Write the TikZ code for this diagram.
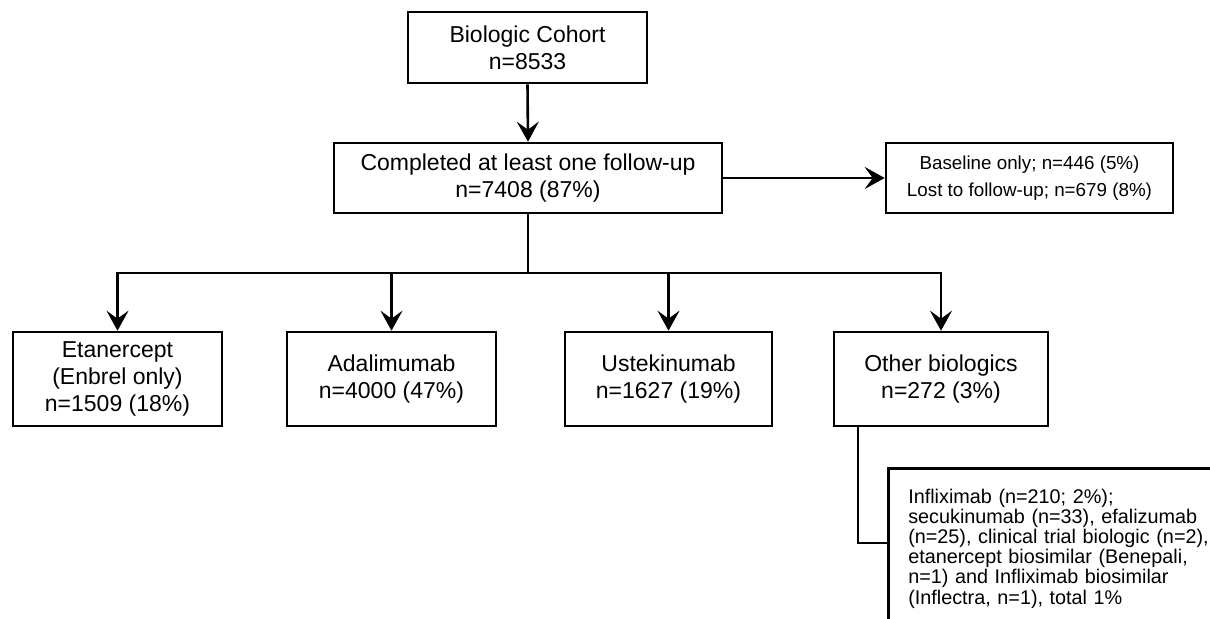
\documentclass[tikz,border=0pt]{standalone}
\usepackage{fontspec}
\setmainfont{Liberation Sans}
\usetikzlibrary{arrows.meta}
\begin{document}
\begin{tikzpicture}[x=0.5pt,y=-0.5pt,
  box/.style={draw, line width=1.3pt, align=center, inner sep=2pt,
    font=\fontsize{11.5pt}{13.4pt}\selectfont},
  smallbox/.style={draw, line width=1.3pt, align=center, inner sep=2pt,
    font=\fontsize{9.4pt}{13.3pt}\selectfont},
  notebox/.style={draw, line width=1.3pt, align=left, anchor=north west,
    inner xsep=10pt, inner ysep=10.2pt, text width=160pt,
    font=\fontsize{9.9pt}{10.1pt}\selectfont},
  conn/.style={line width=1.3pt},
  arr/.style={conn, -{Stealth[length=10pt, width=11pt, inset=4pt]}}]
\useasboundingbox (0,0) rectangle (1210,619);
\clip (0,0) rectangle (1210,619);
\node[box, minimum width=119.5pt, minimum height=35.5pt] (cohort) at (527.5,47.5) {Biologic Cohort\\n=8533};
\node[box, minimum width=194pt, minimum height=35pt] (fu) at (528,178) {Completed at least one follow-up\\n=7408 (87\%)};
\node[smallbox, minimum width=143.5pt, minimum height=35pt] (excl) at (1029.5,178) {Baseline only; n=446 (5\%)\\Lost to follow-up; n=679 (8\%)};
\node[box, minimum width=104.5pt, minimum height=47pt] (etan) at (117.5,379) {Etanercept\\(Enbrel only)\\n=1509 (18\%)};
\node[box, minimum width=104.5pt, minimum height=47pt] (adal) at (391.5,379) {Adalimumab\\n=4000 (47\%)};
\node[box, minimum width=103.5pt, minimum height=47pt] (ust) at (668.5,379) {Ustekinumab\\n=1627 (19\%)};
\node[box, minimum width=107pt, minimum height=47pt] (oth) at (941,379) {Other biologics\\n=272 (3\%)};
\node[notebox] (others) at (887,467) {Infliximab (n=210; 2\%);\\secukinumab (n=33), efalizumab\\(n=25), clinical trial biologic (n=2),\\etanercept biosimilar (Benepali,\\n=1) and Infliximab biosimilar\\(Inflectra, n=1), total 1\%};
\coordinate (br) at (528,273);
\coordinate (j) at (858,543);
\draw[arr] (cohort.south) -- (fu.north);
\draw[arr] (fu.east) -- (excl.west);
\draw[conn] (fu.south) -- (br);
\draw[arr] (br) -| (etan.north);
\draw[arr] (br) -| (adal.north);
\draw[arr] (br) -| (ust.north);
\draw[arr] (br) -| (oth.north);
\draw[conn] (oth.south -| j) -- (j) -- (j -| others.west);
\end{tikzpicture}
\end{document}
